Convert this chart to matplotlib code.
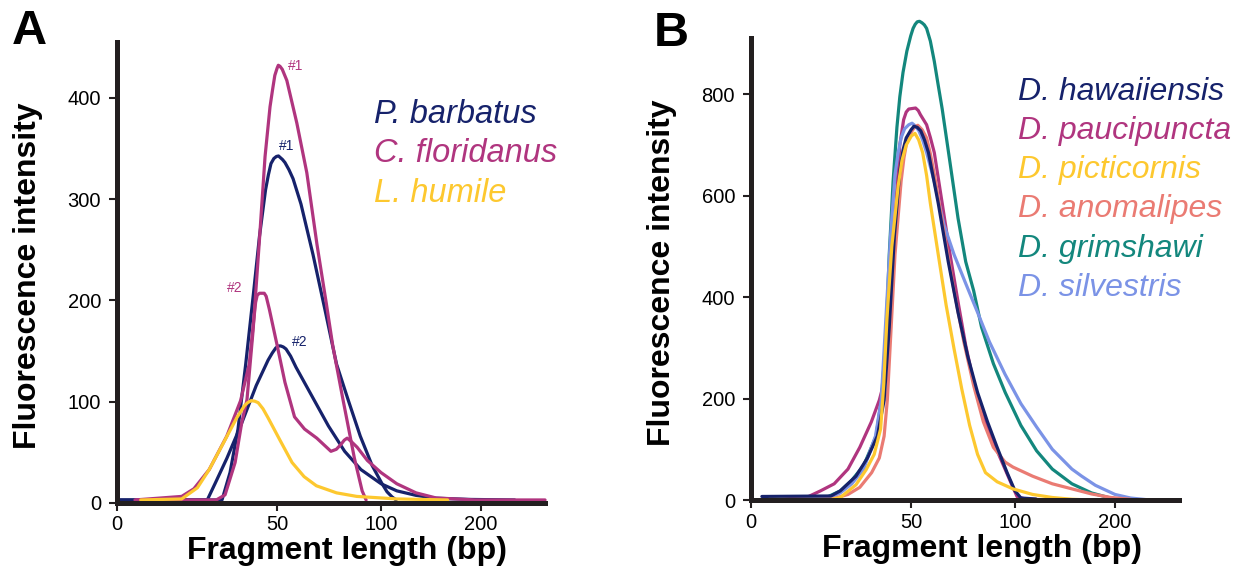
import numpy as np
import matplotlib.pyplot as plt

plt.rcParams['font.family'] = ['Liberation Sans', 'DejaVu Sans']

# ---- panel A data (fragment length in bp, fluorescence) ----
pbar1_bp = [1, 32.8, 35.3, 37.8, 40.2, 42.7, 44.5, 46.4, 47.3, 48.1, 49, 49.8, 50.7, 51.5, 52.6, 53.8, 55.7, 57.7, 61.5, 67.3, 73, 78.6, 84.3, 90, 95.7, 101, 106, 111, 115]
pbar1_fl = [3, 3, 30, 73, 137, 209, 263, 309, 324, 335, 340, 342, 342.5, 341, 339, 336, 329, 320, 295, 245, 191, 137, 101, 66, 37, 19, 11, 6, 3]

pbar2_bp = [1, 28.2, 30.6, 34.3, 38.6, 43.5, 47.2, 48.5, 49.6, 50.7, 51.75, 53, 54.3, 56.5, 59.1, 66.9, 74.7, 82.5, 90.3, 100, 115.7, 135, 154.9, 190, 263]
pbar2_fl = [3, 3, 19, 44, 76, 116, 141, 148, 153, 155, 155, 154, 152, 145, 134, 105, 76, 51, 33, 19, 12, 7.5, 4.7, 3.5, 3]

cflo1_bp = [6, 31, 33.75, 36.9, 39, 40.6, 42.5, 44.5, 46.25, 47.8, 48.6, 49.3, 50, 50.6, 51.4, 52.5, 53.5, 54.7, 59.5, 64.3, 69.2, 73.6, 76.8, 81.7, 87.2, 90.9, 92.8]
cflo1_fl = [3, 3, 8, 40, 80, 102, 170, 260, 342, 391, 408, 422, 429, 432, 431, 428, 423, 417, 375, 326, 255, 198, 155, 102, 44, 12, 3]

cflo2_bp = [5.6, 20.2, 24, 28.8, 34.3, 38.6, 41.3, 42.3, 43.3, 43.8, 44.5, 46, 46.6, 47.6, 50.1, 53.8, 58.4, 63.2, 69.1, 75.9, 78.5, 80.8, 82.3, 83.7, 85.5, 88.5, 93.4, 100, 115.7, 135, 154.9, 194, 320]
cflo2_fl = [3, 6.5, 14, 33, 66, 101, 137, 168, 198, 205, 207, 207, 204, 191, 155, 119, 85, 73, 64, 51, 53, 58, 62, 64, 61, 55, 42, 30, 19, 10, 5, 3, 3]

lhum_bp = [7.4, 20.2, 25.1, 28.8, 33.7, 37.4, 39.8, 40.8, 41.9, 43, 44.1, 45.6, 47.2, 51.4, 57.2, 63.0, 68.9, 78.6, 88.3, 115.7, 166.6]
lhum_fl = [3, 4, 15, 33, 62, 84, 96, 99, 101, 100.5, 99, 93, 84, 62, 40, 26, 17, 10, 6.5, 4, 3]

# ---- panel B data ----
haw_bp = [3.4, 25, 27.9, 32.8, 36.4, 39.5, 41.6, 43.2, 44.8, 46.5, 47.5, 48.5, 50, 51.4, 53, 54.7, 56.5, 58.4, 63.1, 67.9, 72.6, 77.3, 82, 86.8, 91.4, 96.2, 100, 105.9, 121]
haw_fl = [7, 8, 18, 47, 83, 126, 197, 341, 520, 649, 690, 714, 730, 737, 735, 728, 710, 685, 585, 470, 370, 283, 212, 154, 104, 54, 18, 4, 2]

pau_bp = [8, 18, 21.7, 26, 30.3, 34, 37.6, 40.1, 41.6, 43.2, 45, 46.5, 47.7, 48.5, 49.3, 52.2, 53.5, 54.5, 57.5, 59.3, 61.2, 65, 68.8, 72.6, 76.3, 80.1, 83.9, 87.7, 91.4, 95.2, 99, 102, 110, 137]
pau_fl = [0, 7, 18, 32, 61, 104, 154, 197, 233, 341, 556, 700, 750, 765, 771, 773, 768, 760, 740, 715, 685, 585, 484, 391, 305, 233, 176, 133, 97, 61, 25, 7, 2, 0]

pic_bp = [5.5, 25, 27.9, 32.8, 36, 38.5, 40.5, 41.5, 42.5, 44, 46, 47.2, 48.5, 50.2, 51.9, 53.7, 55.6, 57.5, 59.3, 63.1, 66.9, 70.7, 74.4, 78.2, 82, 85.8, 91.4, 99, 117.6, 137.3, 156.9, 176.5]
pic_fl = [1, 1, 5, 30, 60, 90, 140, 230, 360, 500, 620, 670, 700, 718, 723, 710, 685, 640, 585, 484, 384, 298, 219, 147, 90, 54, 36, 22, 11, 5, 1.5, 0]

ano_bp = [10, 25.4, 30.3, 34, 37.7, 40.1, 41.6, 42.6, 43.8, 45, 46.9, 47.8, 48.7, 50.2, 51.8, 53.3, 55.4, 57.5, 59.3, 61.2, 65.9, 70.7, 75.4, 80.1, 84.8, 89.6, 95.2, 99, 117.6, 137.3, 156.9, 176.5, 196, 229]
ano_fl = [0, 2, 11, 25, 54, 83, 126, 197, 341, 484, 628, 675, 707, 726, 736, 739, 730, 714, 683, 642, 527, 413, 312, 226, 154, 104, 75, 65, 47, 32, 22, 12, 5, 1.5]

gri_bp = [8.2, 18, 24.2, 27.9, 31.5, 35.2, 39.1, 40.7, 41.6, 42.3, 43.2, 44.4, 45.6, 46.5, 47.5, 48.7, 49.9, 51, 52, 53, 54.1, 55.3, 56.4, 57.5, 59.3, 61.2, 63, 65, 68.8, 72.6, 76.3, 80.1, 83.9, 89.6, 95.3, 105.9, 121.6, 137.3, 156.9, 176.5, 196, 229]
gri_fl = [0, 2, 7, 18, 39, 68, 126, 197, 269, 341, 484, 628, 735, 795, 843, 885, 915, 930, 938, 943, 944, 941, 937, 930, 905, 865, 820, 771, 664, 556, 470, 413, 341, 269, 212, 147, 97, 61, 32, 14, 3.6, 0]

sil_bp = [10, 24.2, 27.9, 31.5, 35.2, 38.9, 40.7, 42, 43.6, 45, 46, 46.9, 48, 49.3, 50.5, 52, 53.8, 55.6, 57.5, 61.2, 65.9, 70.7, 76.3, 82, 87.7, 95.2, 105.9, 121.6, 137.3, 156.9, 166.7, 180.4, 200, 229, 266]
sil_fl = [0, 4, 14, 32, 61, 126, 197, 341, 520, 642, 685, 714, 732, 740, 743, 738, 728, 710, 685, 628, 542, 484, 427, 370, 312, 248, 190, 144, 100, 61, 47, 29, 11, 4, 0]

tick_bp = [0, 50, 100, 200]

# electropherogram x axis is not linear in bp, use ladder knots
ladder_bp = [0, 50, 100, 200, 320]
ladder_pos = [0, 160, 264, 364, 428]

def fwd(x):
    return np.interp(x, ladder_bp, ladder_pos)

def inv(p):
    return np.interp(p, ladder_pos, ladder_bp)

navy = '#16226b'
magenta = '#b0357f'
yellow = '#fdc82f'
salmon = '#ea7b73'
teal = '#13877d'
peri = '#7b93e6'
dark = '#231f20'
lw = 2.3

fig = plt.figure(figsize=(12.36, 5.71), dpi=100)
axA = fig.add_axes([0.0947, 0.1191, 0.3463, 0.8074])
axB = fig.add_axes([0.6076, 0.1243, 0.3463, 0.8091])

def style(ax, ymax, yticks):
    ax.set_xscale('function', functions=(fwd, inv))
    ax.set_xlim(0, 320)
    ax.set_ylim(0, ymax)
    ax.set_xticks(tick_bp)
    ax.set_xticklabels([str(t) for t in tick_bp])
    ax.set_yticks(yticks)
    ax.minorticks_off()
    for s in ['top', 'right']:
        ax.spines[s].set_visible(False)
    for s in ['left', 'bottom']:
        ax.spines[s].set_linewidth(3.6)
        ax.spines[s].set_color(dark)
        ax.spines[s].set_capstyle('projecting')
    ax.tick_params(direction='out', length=5.5, width=1.5, color=dark, labelsize=14.5)
    ax.tick_params(axis='x', pad=3.5)
    ax.tick_params(axis='y', pad=6)
    ax.set_xlabel('Fragment length (bp)', fontsize=23, fontweight='bold', va='center')
    ax.set_ylabel('Fluorescence intensity', fontsize=23, fontweight='bold', va='center')

style(axA, 455, [0, 100, 200, 300, 400])
style(axB, 911, [0, 200, 400, 600, 800])

def curve(ax, x, y, c):
    ax.plot(x, y, color=c, lw=lw, solid_joinstyle='round', solid_capstyle='round', clip_on=False)

# panel A
curve(axA, pbar1_bp, pbar1_fl, navy)
curve(axA, pbar2_bp, pbar2_fl, navy)
curve(axA, cflo1_bp, cflo1_fl, magenta)
curve(axA, cflo2_bp, cflo2_fl, magenta)
curve(axA, lhum_bp, lhum_fl, yellow)

axA.text(59.1, 431, '#1', color=magenta, fontsize=10, ha='center', va='center')
axA.text(54.6, 352, '#1', color=navy, fontsize=10, ha='center', va='center')
axA.text(36.9, 212, '#2', color=magenta, fontsize=10, ha='center', va='center')
axA.text(60.7, 159, '#2', color=navy, fontsize=10, ha='center', va='center')

legA = [('P. barbatus', navy), ('C. floridanus', magenta), ('L. humile', yellow)]
for i, (name, c) in enumerate(legA):
    axA.text(0.600, 0.842 - i * 0.085, name, color=c, fontsize=23.5, style='italic',
             transform=axA.transAxes, ha='left', va='center')

# panel B
curve(axB, gri_bp, gri_fl, teal)
curve(axB, pau_bp, pau_fl, magenta)
curve(axB, sil_bp, sil_fl, peri)
curve(axB, ano_bp, ano_fl, salmon)
curve(axB, haw_bp, haw_fl, navy)
curve(axB, pic_bp, pic_fl, yellow)

legB = [('D. hawaiiensis', navy), ('D. paucipuncta', magenta), ('D. picticornis', yellow),
        ('D. anomalipes', salmon), ('D. grimshawi', teal), ('D. silvestris', peri)]
for i, (name, c) in enumerate(legB):
    axB.text(0.624, 0.884 - i * 0.085, name, color=c, fontsize=23, style='italic',
             transform=axB.transAxes, ha='left', va='center')

axA.xaxis.set_label_coords(0.537, -0.104)
axA.yaxis.set_label_coords(-0.208, 0.492)
axB.xaxis.set_label_coords(0.539, -0.106)
axB.yaxis.set_label_coords(-0.209, 0.491)

fig.text(29 / 1236, 1 - 32 / 571, 'A', fontsize=35, fontweight='bold', ha='center', va='center')
fig.text(671 / 1236, 1 - 33 / 571, 'B', fontsize=35, fontweight='bold', ha='center', va='center')

fig.savefig('out.png', dpi=100)
